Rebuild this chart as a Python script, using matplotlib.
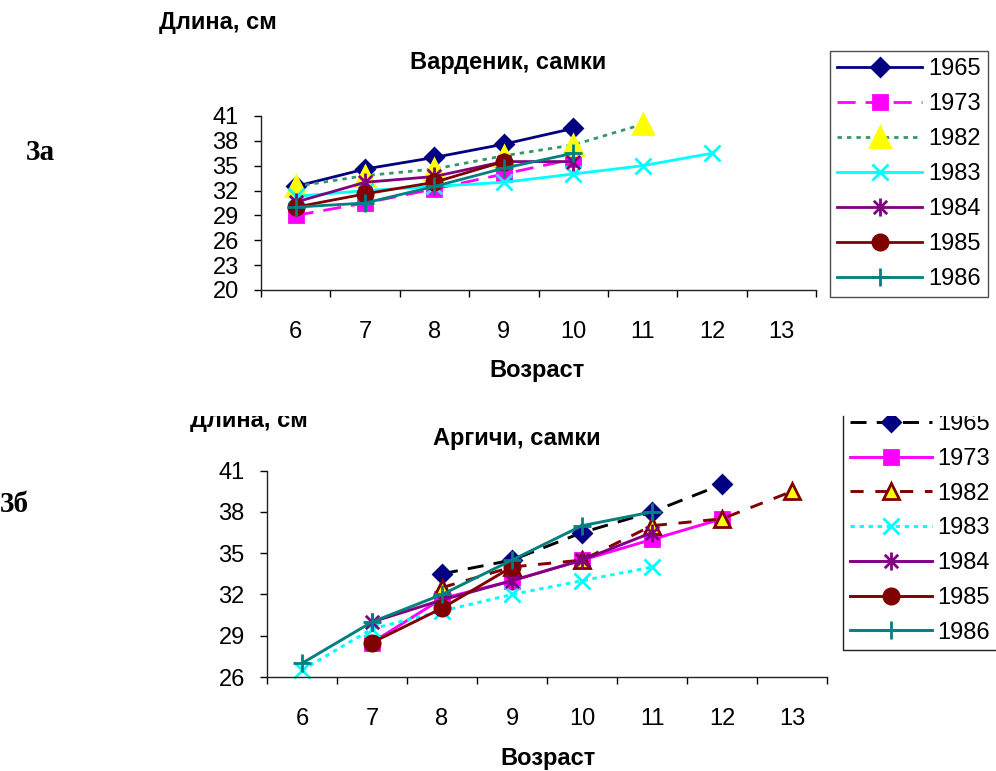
import numpy as np
import matplotlib
matplotlib.use('Agg')
import matplotlib.pyplot as plt
from matplotlib.path import Path
from matplotlib.patches import Rectangle
from matplotlib.lines import Line2D

plt.rcParams['font.family'] = ['Liberation Sans', 'DejaVu Sans']

nan = np.nan
ages = [6, 7, 8, 9, 10, 11, 12, 13]
years = ['1965', '1973', '1982', '1983', '1984', '1985', '1986']

# Варденик, самки
vard_1965 = [32.5, 34.6, 36.0, 37.6, 39.5, nan, nan, nan]
vard_1973 = [29.0, 30.5, 32.2, 34.0, 35.8, nan, nan, nan]
vard_1982 = [32.5, 33.8, 34.6, 36.2, 37.5, 40.0, nan, nan]
vard_1983 = [31.3, 32.0, 32.5, 33.0, 34.0, 35.0, 36.5, nan]
vard_1984 = [30.6, 33.0, 33.7, 35.5, 35.5, nan, nan, nan]
vard_1985 = [30.0, 31.6, 33.0, 35.5, nan, nan, nan, nan]
vard_1986 = [30.0, 30.5, 32.5, 34.7, 36.5, nan, nan, nan]

# Аргичи, самки
argi_1965 = [nan, nan, 33.5, 34.5, 36.5, 38.0, 40.0, nan]
argi_1973 = [nan, 28.5, 31.7, 33.0, 34.5, 36.0, 37.5, nan]
argi_1982 = [nan, nan, 32.5, 34.0, 34.5, 37.0, 37.5, 39.5]
argi_1983 = [26.5, 29.5, 30.8, 32.0, 33.0, 34.0, nan, nan]
argi_1984 = [nan, 30.0, 31.6, 33.0, 34.5, 36.5, nan, nan]
argi_1985 = [nan, 28.5, 31.0, 34.0, nan, nan, nan, nan]
argi_1986 = [27.0, 30.0, 32.0, 34.5, 37.0, 38.0, nan, nan]

vard = [vard_1965, vard_1973, vard_1982, vard_1983, vard_1984, vard_1985, vard_1986]
argi = [argi_1965, argi_1973, argi_1982, argi_1983, argi_1984, argi_1985, argi_1986]

W, H = 996, 771
def fx(px):
    return px / W
def fy(py):
    return 1 - py / H

FS = 17

# звездочка как в Excel: крестик + вертикальная черта
asterisk = Path([(-1, -1), (1, 1), (-1, 1), (1, -1), (0, -1.35), (0, 1.35)],
                [Path.MOVETO, Path.LINETO] * 3)

# стили серий: цвет линии, штрих, маркер, заливка, край, размер
vard_styles = [
    dict(color='#000080', ls='-', marker='D', mfc='#000080', mec='#000080', ms=9),
    dict(color='#FF00FF', ls=(0, (6.5, 3.6)), marker='s', mfc='#FF00FF', mec='#FF00FF', ms=10),
    dict(color='#339966', ls=(0, (1.6, 1.8)), marker='^', mfc='#FFFF00', mec='#FFFF00', ms=14),
    dict(color='#00FFFF', ls='-', marker='x', mfc='#00FFFF', mec='#00FFFF', ms=12),
    dict(color='#800080', ls='-', marker=asterisk, mfc='none', mec='#800080', ms=13),
    dict(color='#800000', ls='-', marker='o', mfc='#800000', mec='#800000', ms=11),
    dict(color='#008080', ls='-', marker='+', mfc='#008080', mec='#008080', ms=13),
]
argi_styles = [
    dict(color='#000000', ls=(0, (5.5, 3.5)), marker='D', mfc='#000080', mec='#000080', ms=9),
    dict(color='#FF00FF', ls='-', marker='s', mfc='#FF00FF', mec='#FF00FF', ms=10),
    dict(color='#800000', ls=(0, (4.5, 4.0)), marker='^', mfc='#FFFF00', mec='#800000', ms=11),
    dict(color='#00FFFF', ls=(0, (1.5, 1.6)), marker='x', mfc='#00FFFF', mec='#00FFFF', ms=11),
    dict(color='#800080', ls='-', marker=asterisk, mfc='none', mec='#800080', ms=13),
    dict(color='#800000', ls='-', marker='o', mfc='#800000', mec='#800000', ms=11),
    dict(color='#008080', ls='-', marker='+', mfc='#008080', mec='#008080', ms=13),
]


def setup_axes(ax, yticks):
    x = np.arange(len(ages))
    ax.set_xlim(-0.5, len(ages) - 0.5)
    ax.set_ylim(yticks[0], yticks[-1])
    ax.set_xticks(np.arange(-0.5, len(ages), 1))
    ax.set_xticklabels([])
    ax.set_xticks(x, labels=[str(a) for a in ages], minor=True)
    ax.set_yticks(yticks)
    ax.tick_params(axis='x', which='major', length=5, width=1, direction='out')
    ax.tick_params(axis='x', which='minor', length=0, pad=22, labelsize=FS)
    ax.tick_params(axis='y', length=5, width=1, direction='out', pad=11, labelsize=FS)
    for s in ['top', 'right']:
        ax.spines[s].set_visible(False)
    for s in ['left', 'bottom']:
        ax.spines[s].set_linewidth(1)
        ax.spines[s].set_color('#222222')


def draw_series(ax, data, styles, lw):
    x = np.arange(len(ages))
    for vals, st, yr in zip(data, styles, years):
        ax.plot(x, vals, color=st['color'], linestyle=st['ls'], linewidth=lw,
                marker=st['marker'], markerfacecolor=st['mfc'],
                markeredgecolor=st['mec'], markersize=st['ms'],
                markeredgewidth=2, label=yr, clip_on=False)


fig = plt.figure(figsize=(9.96, 7.71), dpi=100)

# верхний график
ax1 = fig.add_axes([fx(261), fy(290), fx(816) - fx(261), fy(116) - fy(290)])
setup_axes(ax1, list(range(20, 42, 3)))
draw_series(ax1, vard, vard_styles, 2.0)
leg1 = ax1.legend(loc='upper left', bbox_to_anchor=(fx(830), fy(51)),
                  bbox_transform=fig.transFigure, fontsize=FS, numpoints=1,
                  handlelength=3.6, handletextpad=0.25, borderpad=0.3,
                  labelspacing=0.55, borderaxespad=0, fancybox=False,
                  frameon=True, edgecolor='#222222')
leg1.get_frame().set_linewidth(1)

fig.text(fx(218), fy(22), 'Длина, см', ha='center', va='center',
         fontsize=FS, fontweight='bold')
fig.text(fx(508), fy(63), 'Варденик, самки', ha='center', va='center',
         fontsize=FS, fontweight='bold')
fig.text(fx(537), fy(370), 'Возраст', ha='center', va='center',
         fontsize=FS, fontweight='bold')
fig.text(fx(40), fy(152), '3а', ha='center', va='center', fontsize=21,
         fontweight='bold', family=['Liberation Serif', 'DejaVu Serif'])

# нижний график
ax2 = fig.add_axes([fx(267), fy(677), fx(827) - fx(267), fy(470.7) - fy(677)])
setup_axes(ax2, list(range(26, 42, 3)))
draw_series(ax2, argi, argi_styles, 2.1)
leg2 = ax2.legend(loc='upper left', bbox_to_anchor=(fx(842.7), fy(406)),
                  bbox_transform=fig.transFigure, fontsize=FS, numpoints=1,
                  handlelength=3.5, handletextpad=0.2, borderpad=0.3,
                  labelspacing=0.54, borderaxespad=0, frameon=False)

fig.text(fx(249), fy(421), 'Длина, см', ha='center', va='center',
         fontsize=FS, fontweight='bold')
fig.text(fx(517), fy(438), 'Аргичи, самки', ha='center', va='center',
         fontsize=FS, fontweight='bold')
fig.text(fx(548), fy(758), 'Возраст', ha='center', va='center',
         fontsize=FS, fontweight='bold')
fig.text(fx(0), fy(505), '3б', ha='left', va='center', fontsize=21,
         fontweight='bold', family=['Liberation Serif', 'DejaVu Serif'])

# обрезанный верх нижнего фрагмента
for x0, x1 in [(180, 330), (830, 996)]:
    fig.add_artist(Rectangle((fx(x0), fy(416)), fx(x1) - fx(x0), fy(395) - fy(416),
                             transform=fig.transFigure, facecolor='white',
                             edgecolor='none', zorder=10))
# рамка легенды снизу: видны только левая и нижняя стороны
fig.add_artist(Line2D([fx(842.7), fx(842.7), 1.0], [fy(416), fy(650), fy(650)],
                      transform=fig.transFigure, color='#222222', lw=1, zorder=11))

fig.savefig('out.png', dpi=100)
